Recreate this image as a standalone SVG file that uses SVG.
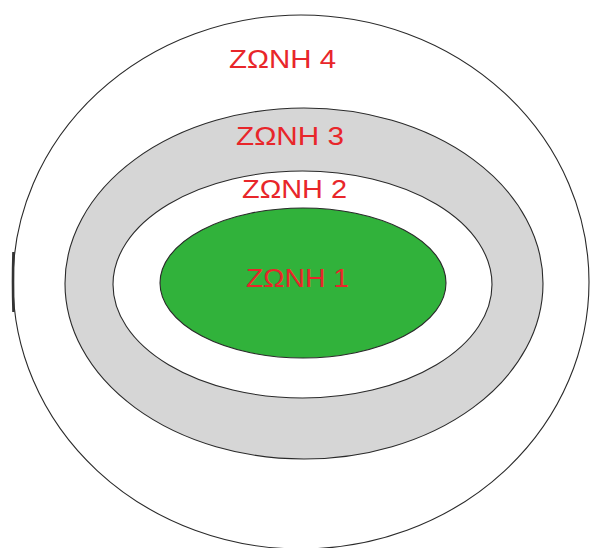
<svg xmlns="http://www.w3.org/2000/svg" width="591" height="548" viewBox="0 0 591 548">
<style>
.z{stroke:#2a2a2a;stroke-width:1.1}
.t{font-family:"Liberation Sans",Arial,sans-serif;font-size:26px;fill:#e8262a}
</style>
<rect width="591" height="548" fill="#fff"/>
<g id="zone4"><ellipse class="z" cx="301" cy="282" rx="288" ry="267" fill="#fff"/>
<path d="M13.5,252 Q12.5,282 13.5,312" fill="none" stroke="#333" stroke-width="2.6"/></g>
<g id="zone3"><ellipse class="z" cx="304" cy="283.5" rx="239" ry="175.5" fill="#d6d6d6"/></g>
<g id="zone2"><ellipse class="z" cx="302.5" cy="284.5" rx="189.5" ry="113.5" fill="#fff"/></g>
<g id="zone1"><ellipse class="z" cx="303" cy="283" rx="143" ry="75" fill="#31b23b"/></g>
<g id="labels">
<text class="t" x="229" y="68" textLength="107" lengthAdjust="spacingAndGlyphs">ΖΩΝΗ 4</text>
<text class="t" x="236" y="145" textLength="108" lengthAdjust="spacingAndGlyphs">ΖΩΝΗ 3</text>
<text class="t" x="242" y="198" textLength="105" lengthAdjust="spacingAndGlyphs">ΖΩΝΗ 2</text>
<text class="t" x="246" y="287" textLength="103" lengthAdjust="spacingAndGlyphs">ΖΩΝΗ 1</text>
</g>
</svg>
